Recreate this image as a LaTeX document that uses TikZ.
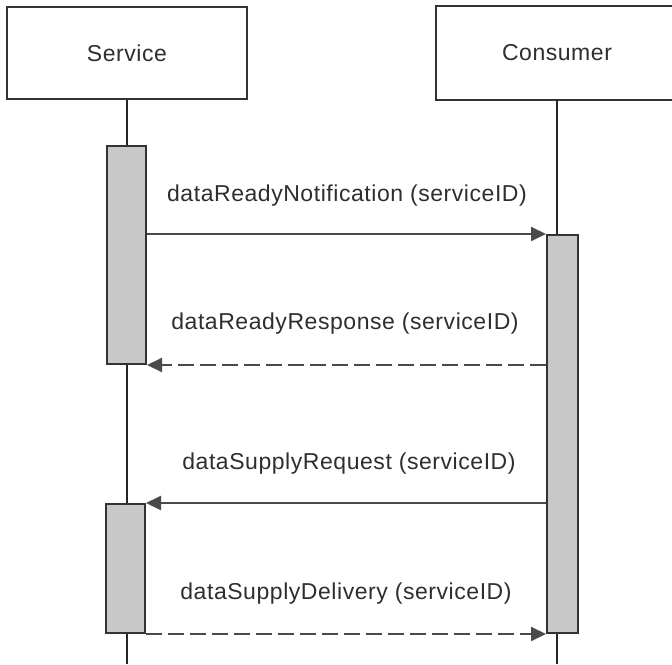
\documentclass[tikz,border=0pt]{standalone}
\usepackage{fontspec}
\setmainfont{Liberation Sans}[LetterSpace=2.4]
\usetikzlibrary{arrows.meta}
\definecolor{edge}{HTML}{333333}
\definecolor{barfill}{HTML}{C8C8C8}
\definecolor{msgc}{HTML}{4A4A4A}
\definecolor{txt}{HTML}{2E2E2E}
\begin{document}
\begin{tikzpicture}[x=1pt,y=-1pt,
  lifebox/.style={line width=2pt,fill=white,minimum width=240pt,minimum height=92pt,inner sep=0pt,font=\fontsize{23}{27}\selectfont,text=txt},
  actbar/.style={draw=edge,line width=2pt,fill=barfill,inner sep=0pt},
  lifeline/.style={draw=black!85,line width=1.6pt},
  msgsolid/.style={draw=msgc,line width=2pt,-{Triangle[length=15pt,width=14pt]}},
  msgdashed/.style={msgsolid,dash pattern=on 16pt off 6pt},
  msglabel/.style={inner sep=0pt,font=\fontsize{23}{27}\selectfont,text=txt}]
\useasboundingbox (0,0) rectangle (672,664);
% participants
\node[lifebox,draw=edge] (service) at (127,53) {Service};
\node[lifebox] (consumer) at (557,53) {Consumer};
\draw[edge,line width=2pt] (consumer.north east) -- (consumer.north west) -- (consumer.south west) -- (consumer.south east);
% lifeline ends
\coordinate (sEnd) at (127,664);
\coordinate (cEnd) at (557,664);
\draw[lifeline] (service.south) -- (sEnd);
\draw[lifeline] (consumer.south) -- (cEnd);
% activation bars
\node[actbar,minimum width=39pt,minimum height=218pt] (bar1) at (126.5,255) {};
\node[actbar,minimum width=39pt,minimum height=129pt] (bar2) at (125.5,568.5) {};
\node[actbar,minimum width=31pt,minimum height=398pt] (cbar) at (562.5,434) {};
% messages
\draw[msgsolid] (bar1.east |- cbar.north) -- (cbar.north west);
\draw[msgdashed] (cbar.west |- bar1.south) -- (bar1.south east);
\draw[msgsolid] (cbar.west |- bar2.north) -- (bar2.north east);
\draw[msgdashed] (bar2.south east) -- (cbar.south west);
% labels
\node[msglabel] (l1) at (347,196) {dataReadyNotification (serviceID)};
\node[msglabel] (l2) at (345,324) {dataReadyResponse (serviceID)};
\node[msglabel] (l3) at (349,464) {dataSupplyRequest (serviceID)};
\node[msglabel] (l4) at (346,594) {dataSupplyDelivery (serviceID)};
\end{tikzpicture}
\end{document}
